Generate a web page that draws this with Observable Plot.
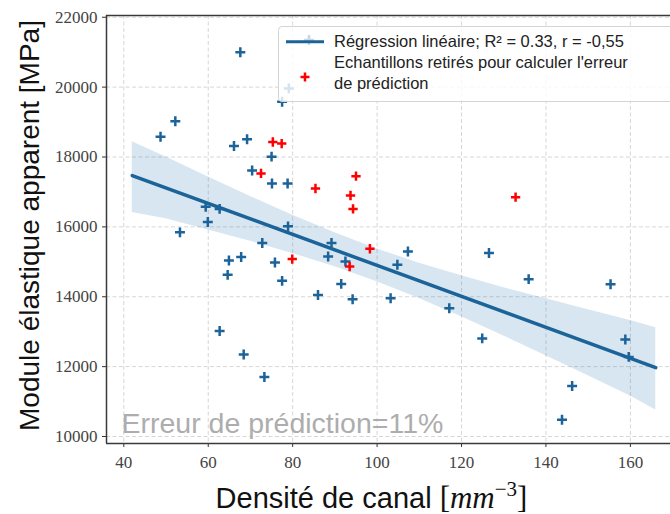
<!DOCTYPE html>
<html><head><meta charset="utf-8">
<script src="https://cdn.jsdelivr.net/npm/d3@7"></script>
<script src="https://cdn.jsdelivr.net/npm/@observablehq/plot@0.6"></script>
<style>
body{margin:0;background:#fff;}
#wrap{position:relative;width:670px;height:514px;overflow:hidden;background:#fff;}
#legend{position:absolute;left:278px;top:26px;width:420px;height:74px;background:rgba(255,255,255,0.82);border:1px solid #d4d4d4;border-radius:4px;font-family:"Liberation Sans",Arial,sans-serif;font-size:16.5px;color:#222;}
#legend .txt{position:absolute;left:55px;top:4px;line-height:21px;white-space:nowrap;}
#legend svg{position:absolute;left:0;top:0;}
</style></head><body><div id="wrap"><div id="chart"></div>
<div id="legend">
<svg width="60" height="74">
<line x1="7" y1="14.7" x2="45" y2="14.7" stroke="#1b6399" stroke-width="3"/>
<path d="M25,13h10M30,8v10" stroke="#1b6399" stroke-opacity="0.25" stroke-width="2.5" fill="none"/>
<path d="M21.5,50h9M26,45.5v9" stroke="#ff0000" stroke-width="2.5" fill="none"/>
</svg>
<div class="txt">Régression linéaire; R² = 0.33, r = -0,55<br>Echantillons retirés pour calculer l'erreur<br>de prédiction</div>
</div></div>
<script>
// Kept samples (blue)
const blueX = [67.6, 52.2, 48.7, 66.1, 69.2, 75.0, 70.4, 75.1, 78.8, 77.5, 79.1, 59.4, 62.7, 59.9, 78.9,
               53.3, 72.8, 64.9, 67.8, 64.6, 75.8, 77.5, 86.0, 89.2, 88.4, 92.5, 91.5, 94.2, 103.2, 104.8,
               62.7, 68.4, 73.3, 107.3, 117.1, 126.5, 124.9, 135.9, 155.3, 158.8, 159.6, 146.2, 143.8];
const blueY = [21000, 19025, 18580, 18315, 18507, 18010, 17616, 17242, 17242, 19580, 19964, 16573, 16515, 16142, 16015,
               15843, 15538, 15038, 15136, 14627, 14981, 14455, 14052, 15538, 15153, 15009, 14368, 13929, 13957, 14915,
               13018, 12348, 11704, 15297, 13670, 15251, 12808, 14504, 14360, 12779, 12279, 11446, 10480];
// Removed samples (red)
const redX = [75.3, 77.4, 72.5, 85.4, 95.0, 93.7, 94.3, 132.8, 98.3, 79.9, 93.5];
const redY = [18430, 18384, 17530, 17099, 17452, 16898, 16515, 16849, 15374, 15078, 14866];
// Regression line
const regX = [42, 166];
const regY = [17470, 11970];
// Confidence band
const bandX  = [42, 50, 60, 70, 80, 90, 100, 110, 120, 130, 140, 150, 160, 166];
const bandLo = [16410, 16230, 15910, 15590, 15240, 14860, 14430, 13950, 13430, 12880, 12310, 11740, 11160, 10760];
const bandHi = [18440, 18000, 17430, 16870, 16330, 15830, 15370, 14960, 14600, 14260, 13940, 13630, 13320, 13110];
// Axes
const xTicks = [40, 60, 80, 100, 120, 140, 160];
const yTicks = [10000, 12000, 14000, 16000, 18000, 20000, 22000];
const xDomain = [35.9, 169.5];
const yDomain = [9800, 22050];
const yLabel = "Module élastique apparent [MPa]";
const xLabel = "Densité de canal ";
const annot = "Erreur de prédiction=11%";

const blue = blueX.map((x, i) => ({x, y: blueY[i]}));
const red = redX.map((x, i) => ({x, y: redY[i]}));
const reg = regX.map((x, i) => ({x, y: regY[i]}));
const band = bandX.map((x, i) => ({x, lo: bandLo[i], hi: bandHi[i]}));

const sans = "'Liberation Sans', Arial, sans-serif";
const serif = "'Liberation Serif', 'Times New Roman', serif";
const gridStyle = {stroke: "#d6d6d6", strokeOpacity: 1, strokeWidth: 1, strokeDasharray: "4,2.5"};
const spine = {stroke: "#3a3a3a", strokeWidth: 1.5};

const chart = Plot.plot({
  width: 670, height: 514,
  marginLeft: 106, marginRight: 0, marginTop: 15, marginBottom: 71,
  x: {domain: xDomain},
  y: {domain: yDomain},
  style: {background: "transparent", fontFamily: serif},
  marks: [
    Plot.gridX(xTicks, gridStyle),
    Plot.gridY(yTicks, gridStyle),
    Plot.areaY(band, {x: "x", y1: "lo", y2: "hi", fill: "#1f77b4", fillOpacity: 0.18}),
    Plot.line(reg, {x: "x", y: "y", stroke: "#1b6399", strokeWidth: 3.5}),
    Plot.dot(blue, {x: "x", y: "y", symbol: "plus", r: 3.3, stroke: "#1b6399", strokeWidth: 2.5, fill: "none"}),
    Plot.dot(red, {x: "x", y: "y", symbol: "plus", r: 3.1, stroke: "#ff0000", strokeWidth: 2.5, fill: "none"}),
    Plot.axisX(xTicks, {tickSize: 4, tickPadding: 8, fontSize: 17, fill: "#444", stroke: "#333", label: null, fontFamily: serif}),
    Plot.axisY(yTicks, {tickSize: 4, tickPadding: 5, fontSize: 17, fill: "#444", stroke: "#333", label: null, fontFamily: serif, tickFormat: d => String(d)}),
    Plot.ruleX([xDomain[0]], spine),
    Plot.ruleY([yDomain[0], yDomain[1]], spine),
    Plot.text([annot], {frameAnchor: "bottom-left", dx: 15, dy: -11, fontSize: 28.5, fill: "#adadad", fontFamily: sans, textAnchor: "start", lineAnchor: "bottom"}),
    Plot.text([yLabel], {frameAnchor: "left", dx: -76, dy: -4, rotate: -90, fontSize: 28, fontFamily: sans, fill: "#111", textAnchor: "middle", lineAnchor: "middle"}),
    Plot.text([xLabel], {frameAnchor: "bottom", dx: -17, dy: 64, fontSize: 29, fontFamily: sans, fill: "#111", textAnchor: "middle", lineAnchor: "bottom"})
  ]
});
document.getElementById("chart").appendChild(chart);

// math part of the x label: [mm^-3]
const t = d3.select(chart).selectAll("text").filter(function() { return this.textContent === xLabel; });
if (!t.empty()) {
  const base = t.text();
  t.text(null);
  t.append("tspan").text(base);
  t.append("tspan").attr("font-family", serif).attr("font-size", 31).text("[");
  t.append("tspan").attr("font-family", serif).attr("font-size", 31).attr("font-style", "italic").text("mm");
  t.append("tspan").attr("font-family", serif).attr("font-size", 21).attr("dy", -12).text("−3");
  t.append("tspan").attr("font-family", serif).attr("font-size", 31).attr("dy", 12).text("]");
}
</script>
</body></html>
